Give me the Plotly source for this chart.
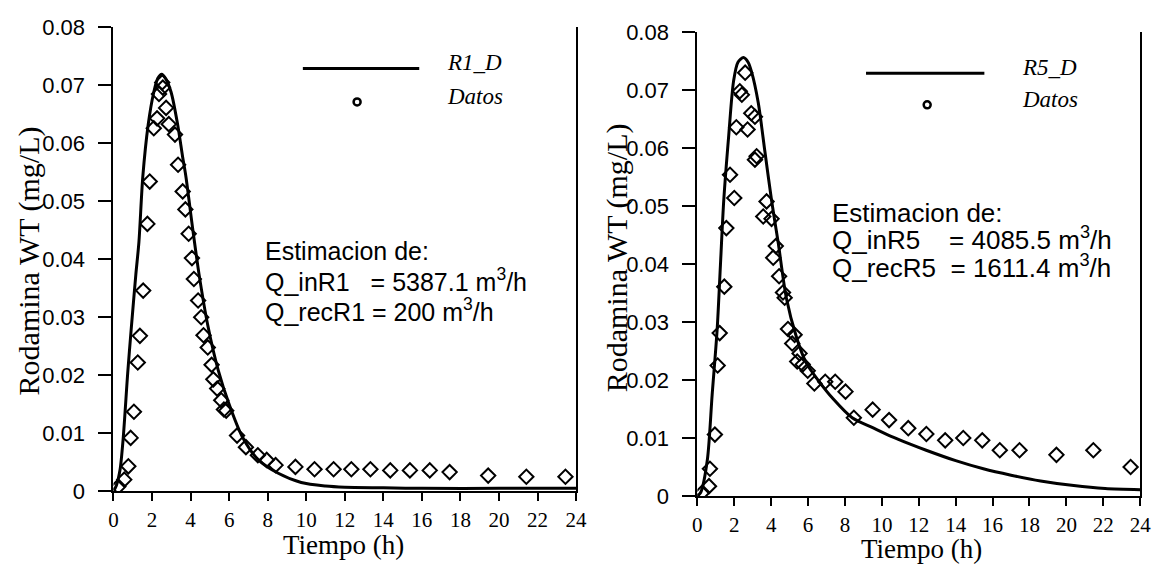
import plotly.graph_objects as go

W, H = 1166, 576

# ---------------- data ----------------
tick_x = [0, 2, 4, 6, 8, 10, 12, 14, 16, 18, 20, 22, 24]
tick_y = [0, 0.01, 0.02, 0.03, 0.04, 0.05, 0.06, 0.07, 0.08]
tick_y_text = ["0", "0.01", "0.02", "0.03", "0.04", "0.05", "0.06", "0.07", "0.08"]

# R1 data (Datos)
r1_t = [0.25, 0.56, 0.77, 0.89, 1.06, 1.26, 1.37, 1.54, 1.76, 1.88, 2.09, 2.26, 2.36,
        2.53, 2.56, 2.73, 2.87, 3.19, 3.35, 3.59, 3.73, 3.90, 4.07, 4.17, 4.39, 4.55,
        4.67, 4.89, 5.09, 5.18, 5.38, 5.59, 5.73, 5.85, 6.41, 6.87, 7.49, 7.95, 8.41,
        9.44, 10.43, 11.42, 12.34, 13.33, 14.36, 15.38, 16.41, 17.44, 19.44, 21.42, 23.45]
r1_c = [0.0008, 0.0020, 0.0043, 0.0092, 0.0137, 0.0222, 0.0268, 0.0346, 0.0461, 0.0534,
        0.0626, 0.0643, 0.0685, 0.0705, 0.0696, 0.0661, 0.0633, 0.0615, 0.0563, 0.0517,
        0.0486, 0.0444, 0.0402, 0.0366, 0.0329, 0.0300, 0.0269, 0.0248, 0.0218, 0.0193,
        0.0177, 0.0157, 0.0141, 0.0139, 0.0096, 0.0076, 0.0062, 0.0054, 0.0045, 0.0042,
        0.0038, 0.0038, 0.0038, 0.0038, 0.0036, 0.0036, 0.0036, 0.0033, 0.0027, 0.0025,
        0.0025]

# R1 model curve (R1_D)
r1m_t = [0, 0.15, 0.34, 0.5, 0.74, 0.92, 1.16, 1.32, 1.52, 1.8, 2.09, 2.3, 2.5, 2.7, 2.99,
         3.33, 3.59, 3.76, 4.1, 4.44, 4.9, 5.44, 6.0, 6.67, 7.52, 8.55, 9.74, 11.0, 12.0,
         14.0, 16.0, 20.0, 24.0]
r1m_c = [0, 0.0010, 0.0037, 0.0090, 0.0205, 0.0280, 0.0374, 0.0430, 0.0542, 0.0632,
         0.0688, 0.0712, 0.0719, 0.0712, 0.0688, 0.0632, 0.0576, 0.0542, 0.0455, 0.0374,
         0.0285, 0.0208, 0.0150, 0.0095, 0.0054, 0.0031, 0.0015, 0.0009, 0.0007, 0.0006,
         0.0005, 0.0005, 0.0005]

# R5 data (Datos)
r5_t = [0.27, 0.63, 0.68, 0.95, 1.10, 1.21, 1.46, 1.57, 1.77, 2.00, 2.11, 2.30, 2.41,
        2.59, 2.72, 2.92, 3.12, 3.12, 3.21, 3.57, 3.75, 4.02, 4.11, 4.25, 4.43, 4.64,
        4.73, 4.91, 5.14, 5.27, 5.41, 5.54, 5.71, 5.98, 6.34, 6.93, 7.47, 8.03, 8.48,
        9.50, 10.39, 11.43, 12.41, 13.43, 14.41, 15.44, 16.39, 17.46, 19.46, 21.46, 23.48]
r5_c = [0.0006, 0.0017, 0.0047, 0.0106, 0.0225, 0.0281, 0.0361, 0.0462, 0.0554, 0.0514,
        0.0636, 0.0698, 0.0692, 0.0730, 0.0632, 0.0660, 0.0654, 0.0580, 0.0586, 0.0482,
        0.0508, 0.0478, 0.0411, 0.0431, 0.0379, 0.0351, 0.0342, 0.0288, 0.0263, 0.0278,
        0.0232, 0.0246, 0.0227, 0.0216, 0.0194, 0.0197, 0.0197, 0.0180, 0.0135, 0.0149,
        0.0131, 0.0117, 0.0107, 0.0096, 0.0100, 0.0096, 0.0079, 0.0079, 0.0071, 0.0079,
        0.0050]

# R5 model curve (R5_D)
r5m_t = [0, 0.18, 0.54, 0.80, 1.07, 1.25, 1.43, 1.70, 1.96, 2.2, 2.5, 2.75, 2.95, 3.30,
         3.66, 4.02, 4.38, 4.82, 5.36, 5.89, 6.61, 7.32, 8.39, 9.5, 10.5, 11.5, 12.4,
         14.0, 15.5, 17.0, 18.6, 20.4, 22.1, 24.0]
r5m_c = [0, 0.0006, 0.0062, 0.0174, 0.0286, 0.0398, 0.0510, 0.0622, 0.0715, 0.0748,
         0.0756, 0.0748, 0.0730, 0.0678, 0.0594, 0.0510, 0.0437, 0.0342, 0.0275, 0.0230,
         0.0197, 0.0169, 0.0135, 0.0118, 0.0103, 0.0090, 0.0079, 0.0061, 0.0047, 0.0036,
         0.0026, 0.0018, 0.0013, 0.0011]

# ---------------- figure ----------------
def fx(p):
    return p / W

def fy(p):
    return 1 - p / H

fig = go.Figure()

mk = dict(symbol="diamond-open", size=11, color="black", line=dict(color="black", width=2))
ln = dict(color="black", width=3, shape="spline", smoothing=0.8)

fig.add_trace(go.Scatter(x=r1m_t, y=r1m_c, mode="lines", line=ln, xaxis="x", yaxis="y", showlegend=False))
fig.add_trace(go.Scatter(x=r1_t, y=r1_c, mode="markers", marker=mk, xaxis="x", yaxis="y", showlegend=False))
fig.add_trace(go.Scatter(x=r5m_t, y=r5m_c, mode="lines", line=ln, xaxis="x2", yaxis="y2", showlegend=False))
fig.add_trace(go.Scatter(x=r5_t, y=r5_c, mode="markers", marker=mk, xaxis="x2", yaxis="y2", showlegend=False))

xfont = dict(family="Liberation Serif", size=21, color="black")
yfont = dict(family="Liberation Sans", size=22, color="black")

def xax(dom, anchor):
    return dict(domain=dom, range=[0, 24], tickvals=tick_x, ticktext=[str(v) for v in tick_x],
                ticks="outside", ticklen=8, tickwidth=2, tickcolor="black",
                showline=True, linewidth=2, linecolor="black", mirror=False,
                showgrid=False, zeroline=False, tickfont=xfont, anchor=anchor, fixedrange=True,
                ticklabelstandoff=1)

def yax(dom, anchor):
    return dict(domain=dom, range=[0, 0.08], tickvals=tick_y, ticktext=tick_y_text,
                ticks="outside", ticklen=13, tickwidth=2, tickcolor="black",
                showline=True, linewidth=2, linecolor="black", mirror=True,
                showgrid=False, zeroline=False, tickfont=yfont, anchor=anchor, fixedrange=True,
                ticklabelstandoff=9)

fig.update_layout(
    width=W, height=H, autosize=False,
    margin=dict(l=0, r=0, t=0, b=0),
    paper_bgcolor="white", plot_bgcolor="white",
    xaxis=xax([fx(110), fx(579)], "y"),
    yaxis=yax([fy(501), fy(16)], "x"),
    xaxis2=xax([fx(702), fx(1151)], "y2"),
    yaxis2=yax([fy(506), fy(21)], "x2"),
)

ann = []
title_font = dict(family="Liberation Serif", size=30, color="black")
xtitle_font = dict(family="Liberation Serif", size=27, color="black")
# axis titles
ann.append(dict(text="Rodamina WT (mg/L)", x=fx(24), y=fy(260), xref="paper", yref="paper",
                textangle=-90, showarrow=False, font=title_font, xanchor="center", yanchor="middle"))
ann.append(dict(text="Rodamina WT (mg/L)", x=fx(620), y=fy(257), xref="paper", yref="paper",
                textangle=-90, showarrow=False, font=title_font, xanchor="center", yanchor="middle"))
ann.append(dict(text="Tiempo (h)", x=fx(343), y=fy(557), xref="paper", yref="paper",
                showarrow=False, font=xtitle_font, xanchor="center", yanchor="middle"))
ann.append(dict(text="Tiempo (h)", x=fx(929), y=fy(561), xref="paper", yref="paper",
                showarrow=False, font=xtitle_font, xanchor="center", yanchor="middle"))

# estimation text
sfont = dict(family="Liberation Sans", size=25, color="black")
left_lines = ["Estimacion de:", "Q_inR1   = 5387.1 m<sup>3</sup>/h", "Q_recR1 = 200 m<sup>3</sup>/h"]
left_y = [250, 280, 311]
for t, yy in zip(left_lines, left_y):
    ann.append(dict(text=t, x=fx(262), y=fy(yy), xref="paper", yref="paper", showarrow=False,
                    font=sfont, xanchor="left", yanchor="middle"))
sfont2 = dict(family="Liberation Sans", size=26, color="black")
right_lines = ["Estimacion de:", "Q_inR5    = 4085.5 m<sup>3</sup>/h", "Q_recR5  = 1611.4 m<sup>3</sup>/h"]
right_y = [210, 237, 266]
for t, yy in zip(right_lines, right_y):
    ann.append(dict(text=t, x=fx(836), y=fy(yy), xref="paper", yref="paper", showarrow=False,
                    font=sfont2, xanchor="left", yanchor="middle"))

# legend text
lfont = dict(family="Liberation Serif", size=23, color="black")
for txt, xx, yy in [("<i>R1_D</i>", 446, 53), ("<i>Datos</i>", 446, 88),
                    ("<i>R5_D</i>", 1029, 58), ("<i>Datos</i>", 1029, 91)]:
    ann.append(dict(text=txt, x=fx(xx), y=fy(yy), xref="paper", yref="paper", showarrow=False,
                    font=lfont, xanchor="left", yanchor="middle"))

shapes = []
for x0, x1, yy in [(302, 420, 59), (873, 993, 64)]:
    shapes.append(dict(type="line", xref="paper", yref="paper", x0=fx(x0), x1=fx(x1), y0=fy(yy), y1=fy(yy),
                       line=dict(color="black", width=3)))
for cx, cy in [(357, 94), (935, 97)]:
    shapes.append(dict(type="circle", xref="paper", yref="paper", xsizemode="pixel", ysizemode="pixel",
                       xanchor=fx(cx), yanchor=fy(cy), x0=-3.5, x1=3.5, y0=-3.5, y1=3.5,
                       line=dict(color="black", width=2.5), fillcolor="white"))

fig.update_layout(annotations=ann, shapes=shapes)

post = ("var d=document.documentElement,b=document.body;"
        "d.style.margin='0';d.style.padding='0';d.style.overflow='hidden';"
        "b.style.margin='0';b.style.padding='0';b.style.overflow='hidden';")
fig.write_html("out.html", config={"displayModeBar": False}, post_script=post)
